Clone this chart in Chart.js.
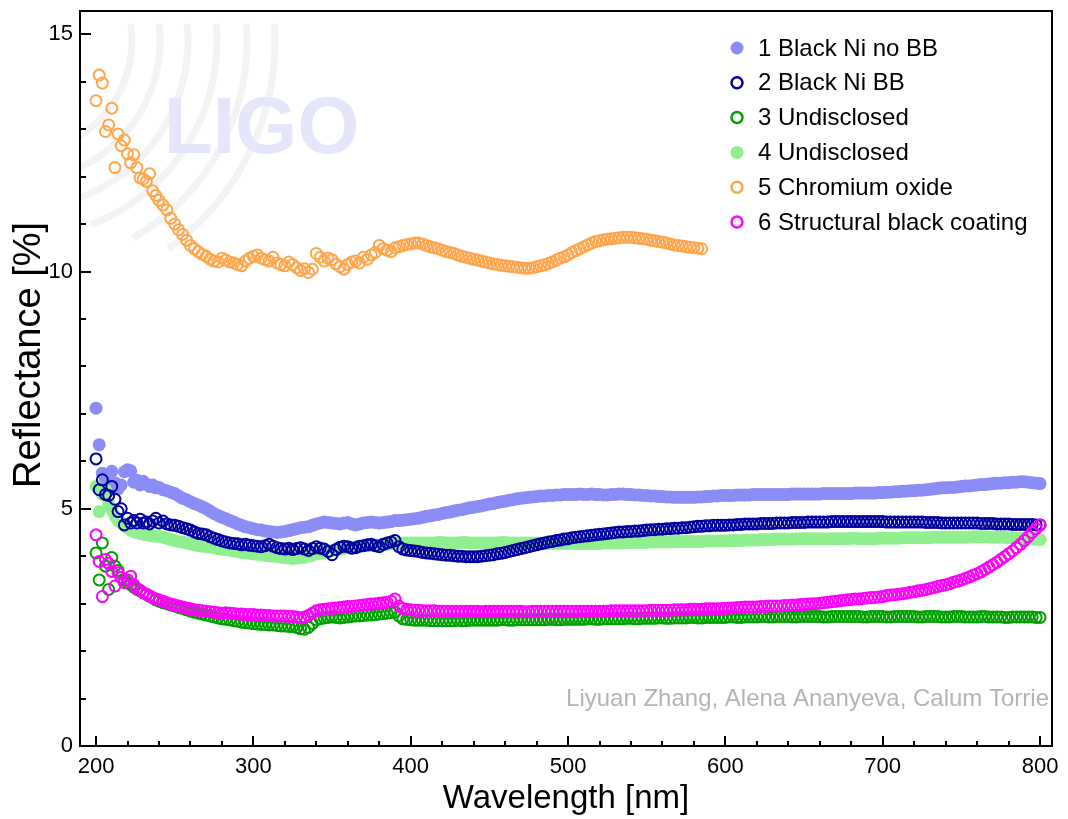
<!DOCTYPE html>
<html>
<head>
<meta charset="utf-8">
<title>Reflectance of black coatings</title>
<script src="https://cdn.jsdelivr.net/npm/chart.js@4.4.1/dist/chart.umd.min.js"></script>
<style>
  html, body { margin: 0; padding: 0; background: #fff; }
  canvas { display: block; }
</style>
</head>
<body>
<canvas id="reflChart" width="1068" height="819"></canvas>
<script>
// wavelength grid [nm] shared by all samples
const wavelengths = [
  200, 202, 204, 206, 208, 210, 212, 214, 216, 218, 220, 222, 224, 226, 228, 230, 232, 234, 236, 238,
  240, 242.5, 245, 247.5, 250, 252.5, 255, 257.5, 260, 262.5, 265, 267.5, 270, 272.5, 275, 277.5, 280, 282.5, 285, 287.5,
  290, 292.5, 295, 297.5, 300, 302.5, 305, 307.5, 310, 312.5, 315, 317.5, 320, 322.5, 325, 327.5, 330, 332.5, 335, 337.5,
  340, 342.5, 345, 347.5, 350, 352.5, 355, 357.5, 360, 362.5, 365, 367.5, 370, 372.5, 375, 377.5, 380, 382.5, 385, 387.5,
  390, 392.5, 395, 397.5, 400, 402.5, 405, 407.5, 410, 412.5, 415, 417.5, 420, 422.5, 425, 427.5, 430, 432.5, 435, 437.5,
  440, 442.5, 445, 447.5, 450, 452.5, 455, 457.5, 460, 462.5, 465, 467.5, 470, 472.5, 475, 477.5, 480, 482.5, 485, 487.5,
  490, 492.5, 495, 497.5, 500, 502.5, 505, 507.5, 510, 512.5, 515, 517.5, 520, 522.5, 525, 527.5, 530, 532.5, 535, 537.5,
  540, 542.5, 545, 547.5, 550, 552.5, 555, 557.5, 560, 562.5, 565, 567.5, 570, 572.5, 575, 577.5, 580, 582.5, 585, 587.5,
  590, 592.5, 595, 597.5, 600, 602.5, 605, 607.5, 610, 612.5, 615, 617.5, 620, 622.5, 625, 627.5, 630, 632.5, 635, 637.5,
  640, 642.5, 645, 647.5, 650, 652.5, 655, 657.5, 660, 662.5, 665, 667.5, 670, 672.5, 675, 677.5, 680, 682.5, 685, 687.5,
  690, 692.5, 695, 697.5, 700, 702.5, 705, 707.5, 710, 712.5, 715, 717.5, 720, 722.5, 725, 727.5, 730, 732.5, 735, 737.5,
  740, 742.5, 745, 747.5, 750, 752.5, 755, 757.5, 760, 762.5, 765, 767.5, 770, 772.5, 775, 777.5, 780, 782.5, 785, 787.5,
  790, 792.5, 795, 797.5, 800
];

// reflectance [%], one row per 50 nm
const blackNiNoBB = [
  7.12, 6.35, 5.75, 5.60, 5.72, 5.79, 5.55, 5.42, 5.50, 5.78, 5.82, 5.80, 5.56, 5.60, 5.50, 5.58, 5.52, 5.47, 5.50, 5.44,
  5.45, 5.40, 5.38, 5.35, 5.32, 5.27, 5.22, 5.19, 5.15, 5.11, 5.08, 5.04, 5.00, 4.95, 4.90, 4.86, 4.82, 4.79, 4.75, 4.72,
  4.68, 4.65, 4.62, 4.60, 4.58, 4.56, 4.55, 4.53, 4.52, 4.51, 4.50, 4.51, 4.52, 4.54, 4.56, 4.58, 4.60, 4.61, 4.62, 4.65,
  4.68, 4.70, 4.72, 4.71, 4.70, 4.69, 4.68, 4.70, 4.71, 4.68, 4.66, 4.68, 4.70, 4.71, 4.72, 4.71, 4.70, 4.71, 4.72, 4.73,
  4.75, 4.75, 4.76, 4.77, 4.78, 4.79, 4.80, 4.82, 4.84, 4.85, 4.87, 4.88, 4.90, 4.92, 4.93, 4.95, 4.97, 4.98, 5.00, 5.02,
  5.03, 5.05, 5.06, 5.08, 5.10, 5.11, 5.13, 5.15, 5.16, 5.18, 5.19, 5.21, 5.22, 5.23, 5.24, 5.25, 5.26, 5.27, 5.27, 5.28,
  5.28, 5.29, 5.29, 5.30, 5.30, 5.30, 5.30, 5.31, 5.30, 5.30, 5.31, 5.30, 5.30, 5.29, 5.29, 5.30, 5.30, 5.31, 5.31, 5.30,
  5.30, 5.29, 5.29, 5.28, 5.28, 5.27, 5.27, 5.26, 5.26, 5.25, 5.25, 5.24, 5.24, 5.24, 5.24, 5.24, 5.24, 5.25, 5.25, 5.26,
  5.26, 5.27, 5.27, 5.28, 5.28, 5.28, 5.28, 5.29, 5.29, 5.29, 5.29, 5.30, 5.30, 5.30, 5.30, 5.30, 5.30, 5.30, 5.30, 5.30,
  5.30, 5.31, 5.31, 5.31, 5.31, 5.31, 5.31, 5.31, 5.31, 5.32, 5.32, 5.32, 5.32, 5.32, 5.32, 5.32, 5.32, 5.33, 5.33, 5.33,
  5.33, 5.33, 5.33, 5.34, 5.34, 5.35, 5.35, 5.36, 5.36, 5.37, 5.37, 5.38, 5.38, 5.39, 5.39, 5.40, 5.41, 5.42, 5.43, 5.44,
  5.44, 5.45, 5.45, 5.46, 5.47, 5.48, 5.48, 5.49, 5.50, 5.51, 5.51, 5.52, 5.53, 5.54, 5.54, 5.55, 5.55, 5.56, 5.56, 5.57,
  5.57, 5.56, 5.55, 5.54, 5.53
];
const blackNiBB = [
  6.05, 5.40, 5.61, 5.30, 5.28, 5.47, 5.20, 4.94, 5.00, 4.66, 4.80, 4.70, 4.75, 4.70, 4.78, 4.70, 4.72, 4.68, 4.74, 4.80,
  4.70, 4.74, 4.68, 4.66, 4.65, 4.63, 4.60, 4.58, 4.55, 4.51, 4.48, 4.47, 4.45, 4.41, 4.38, 4.35, 4.32, 4.30, 4.28, 4.27,
  4.26, 4.24, 4.25, 4.23, 4.22, 4.21, 4.20, 4.22, 4.25, 4.21, 4.18, 4.16, 4.15, 4.17, 4.14, 4.16, 4.18, 4.15, 4.12, 4.16,
  4.20, 4.17, 4.15, 4.10, 4.03, 4.14, 4.19, 4.21, 4.20, 4.17, 4.18, 4.21, 4.22, 4.24, 4.25, 4.22, 4.20, 4.25, 4.28, 4.30,
  4.33, 4.20, 4.15, 4.13, 4.12, 4.11, 4.10, 4.08, 4.07, 4.06, 4.05, 4.04, 4.03, 4.02, 4.02, 4.01, 4.00, 4.00, 3.99, 3.99,
  3.99, 3.99, 4.00, 4.01, 4.02, 4.03, 4.05, 4.06, 4.08, 4.10, 4.12, 4.14, 4.16, 4.18, 4.20, 4.22, 4.24, 4.26, 4.28, 4.30,
  4.31, 4.33, 4.34, 4.36, 4.37, 4.39, 4.40, 4.41, 4.42, 4.43, 4.44, 4.45, 4.46, 4.47, 4.48, 4.49, 4.50, 4.51, 4.51, 4.52,
  4.52, 4.53, 4.53, 4.54, 4.55, 4.56, 4.56, 4.57, 4.57, 4.58, 4.58, 4.59, 4.59, 4.60, 4.60, 4.61, 4.62, 4.63, 4.63, 4.64,
  4.64, 4.65, 4.65, 4.65, 4.65, 4.66, 4.66, 4.67, 4.67, 4.68, 4.68, 4.68, 4.68, 4.69, 4.69, 4.69, 4.69, 4.70, 4.70, 4.70,
  4.70, 4.71, 4.71, 4.71, 4.71, 4.72, 4.72, 4.72, 4.72, 4.72, 4.72, 4.73, 4.73, 4.73, 4.73, 4.73, 4.73, 4.73, 4.73, 4.73,
  4.73, 4.73, 4.73, 4.73, 4.73, 4.72, 4.72, 4.72, 4.72, 4.72, 4.72, 4.72, 4.72, 4.72, 4.72, 4.71, 4.71, 4.71, 4.71, 4.70,
  4.70, 4.70, 4.70, 4.70, 4.70, 4.70, 4.70, 4.70, 4.70, 4.69, 4.69, 4.69, 4.69, 4.68, 4.68, 4.68, 4.68, 4.67, 4.67, 4.67,
  4.67, 4.67, 4.67, 4.66, 4.66
];
const undisclosed3 = [
  4.07, 3.50, 4.28, 3.79, 3.30, 3.97, 3.79, 3.70, 3.55, 3.50, 3.44, 3.40, 3.35, 3.30, 3.27, 3.23, 3.20, 3.16, 3.12, 3.08,
  3.05, 3.02, 3.00, 2.97, 2.95, 2.92, 2.90, 2.87, 2.84, 2.82, 2.80, 2.78, 2.76, 2.74, 2.72, 2.70, 2.68, 2.67, 2.66, 2.64,
  2.63, 2.61, 2.60, 2.59, 2.58, 2.57, 2.56, 2.56, 2.55, 2.55, 2.54, 2.53, 2.53, 2.52, 2.52, 2.50, 2.47, 2.46, 2.50, 2.58,
  2.66, 2.68, 2.70, 2.71, 2.72, 2.71, 2.70, 2.71, 2.72, 2.73, 2.74, 2.74, 2.75, 2.76, 2.76, 2.77, 2.78, 2.79, 2.80, 2.81,
  2.82, 2.74, 2.68, 2.67, 2.66, 2.65, 2.65, 2.65, 2.65, 2.64, 2.64, 2.64, 2.64, 2.64, 2.64, 2.64, 2.65, 2.64, 2.64, 2.65,
  2.65, 2.65, 2.65, 2.65, 2.65, 2.65, 2.65, 2.66, 2.66, 2.65, 2.65, 2.66, 2.66, 2.66, 2.66, 2.66, 2.66, 2.66, 2.66, 2.67,
  2.67, 2.66, 2.66, 2.67, 2.67, 2.67, 2.67, 2.67, 2.67, 2.68, 2.68, 2.67, 2.67, 2.68, 2.68, 2.68, 2.68, 2.68, 2.68, 2.69,
  2.69, 2.68, 2.68, 2.69, 2.69, 2.69, 2.69, 2.70, 2.70, 2.69, 2.69, 2.70, 2.70, 2.70, 2.70, 2.71, 2.71, 2.70, 2.70, 2.71,
  2.71, 2.71, 2.71, 2.71, 2.71, 2.72, 2.72, 2.71, 2.71, 2.72, 2.72, 2.72, 2.72, 2.73, 2.73, 2.72, 2.72, 2.73, 2.73, 2.73,
  2.73, 2.72, 2.72, 2.73, 2.73, 2.73, 2.73, 2.73, 2.73, 2.72, 2.72, 2.73, 2.73, 2.73, 2.73, 2.73, 2.73, 2.73, 2.73, 2.72,
  2.72, 2.73, 2.73, 2.73, 2.73, 2.72, 2.72, 2.73, 2.73, 2.73, 2.73, 2.73, 2.73, 2.72, 2.72, 2.73, 2.73, 2.73, 2.73, 2.72,
  2.72, 2.72, 2.73, 2.73, 2.73, 2.72, 2.72, 2.72, 2.72, 2.73, 2.73, 2.72, 2.72, 2.72, 2.72, 2.71, 2.71, 2.72, 2.72, 2.72,
  2.72, 2.72, 2.72, 2.71, 2.71
];
const undisclosed4 = [
  5.47, 4.94, 5.30, 5.40, 5.10, 4.98, 4.85, 4.75, 4.70, 4.65, 4.60, 4.55, 4.52, 4.50, 4.48, 4.47, 4.45, 4.44, 4.43, 4.42,
  4.42, 4.40, 4.38, 4.35, 4.33, 4.31, 4.30, 4.28, 4.26, 4.24, 4.22, 4.21, 4.20, 4.19, 4.18, 4.16, 4.15, 4.14, 4.13, 4.11,
  4.10, 4.08, 4.07, 4.06, 4.05, 4.04, 4.03, 4.02, 4.01, 4.00, 4.00, 3.98, 3.97, 3.96, 3.95, 3.96, 3.97, 3.98, 4.00, 4.02,
  4.05, 4.06, 4.08, 4.10, 4.12, 4.13, 4.15, 4.16, 4.18, 4.19, 4.20, 4.21, 4.22, 4.22, 4.23, 4.23, 4.24, 4.24, 4.25, 4.26,
  4.27, 4.27, 4.28, 4.28, 4.28, 4.28, 4.28, 4.28, 4.28, 4.28, 4.28, 4.29, 4.29, 4.28, 4.28, 4.28, 4.28, 4.29, 4.29, 4.28,
  4.28, 4.28, 4.28, 4.28, 4.28, 4.28, 4.28, 4.29, 4.29, 4.28, 4.28, 4.28, 4.28, 4.28, 4.28, 4.28, 4.28, 4.27, 4.27, 4.27,
  4.27, 4.27, 4.27, 4.27, 4.27, 4.27, 4.27, 4.27, 4.27, 4.27, 4.27, 4.27, 4.27, 4.28, 4.28, 4.28, 4.28, 4.28, 4.28, 4.29,
  4.29, 4.29, 4.29, 4.29, 4.29, 4.30, 4.30, 4.30, 4.30, 4.30, 4.30, 4.31, 4.31, 4.31, 4.31, 4.31, 4.31, 4.31, 4.31, 4.32,
  4.32, 4.32, 4.32, 4.32, 4.32, 4.33, 4.33, 4.33, 4.33, 4.34, 4.34, 4.34, 4.34, 4.35, 4.35, 4.35, 4.35, 4.36, 4.36, 4.36,
  4.36, 4.36, 4.36, 4.37, 4.37, 4.37, 4.37, 4.37, 4.37, 4.37, 4.37, 4.37, 4.37, 4.37, 4.37, 4.37, 4.38, 4.38, 4.37, 4.37,
  4.37, 4.37, 4.37, 4.38, 4.38, 4.38, 4.38, 4.38, 4.38, 4.39, 4.39, 4.39, 4.39, 4.39, 4.39, 4.39, 4.39, 4.40, 4.40, 4.40,
  4.40, 4.40, 4.40, 4.40, 4.40, 4.40, 4.40, 4.41, 4.41, 4.41, 4.41, 4.40, 4.40, 4.40, 4.40, 4.40, 4.39, 4.39, 4.38, 4.38,
  4.37, 4.37, 4.36, 4.36, 4.35
];
// chromium oxide was only measured up to 585 nm
const chromiumOxide = [
  13.60, 14.14, 13.97, 12.95, 13.09, 13.44, 12.19, 12.90, 12.65, 12.77, 12.48, 12.29, 12.46, 12.19, 11.97, 11.95, 11.90, 12.06, 11.70, 11.60,
  11.50, 11.40, 11.30, 11.12, 11.00, 10.88, 10.78, 10.66, 10.55, 10.48, 10.42, 10.36, 10.32, 10.26, 10.22, 10.20, 10.28, 10.24, 10.20, 10.18,
  10.15, 10.12, 10.22, 10.28, 10.32, 10.35, 10.28, 10.25, 10.22, 10.30, 10.18, 10.15, 10.12, 10.20, 10.15, 10.08, 10.02, 10.06, 9.98, 10.05,
  10.38, 10.30, 10.22, 10.28, 10.25, 10.16, 10.10, 10.05, 10.15, 10.20, 10.22, 10.18, 10.30, 10.26, 10.35, 10.40, 10.55, 10.48, 10.45, 10.42,
  10.50, 10.52, 10.55, 10.57, 10.58, 10.60, 10.60, 10.58, 10.55, 10.52, 10.50, 10.48, 10.45, 10.42, 10.40, 10.38, 10.35, 10.32, 10.30, 10.28,
  10.26, 10.24, 10.22, 10.20, 10.18, 10.16, 10.15, 10.13, 10.12, 10.11, 10.10, 10.09, 10.08, 10.07, 10.07, 10.08, 10.10, 10.12, 10.14, 10.17,
  10.20, 10.24, 10.28, 10.31, 10.35, 10.40, 10.44, 10.48, 10.52, 10.56, 10.60, 10.63, 10.65, 10.67, 10.68, 10.69, 10.70, 10.71, 10.72, 10.72,
  10.72, 10.71, 10.70, 10.69, 10.68, 10.66, 10.65, 10.63, 10.62, 10.60, 10.58, 10.56, 10.55, 10.54, 10.52, 10.51, 10.50, 10.49, 10.48
];
const structuralBlack = [
  4.45, 3.89, 3.15, 3.93, 3.85, 3.68, 3.37, 3.65, 3.55, 3.44, 3.50, 3.58, 3.40, 3.32, 3.28, 3.23, 3.20, 3.16, 3.13, 3.10,
  3.08, 3.05, 3.02, 2.99, 2.97, 2.95, 2.93, 2.91, 2.89, 2.87, 2.86, 2.85, 2.84, 2.83, 2.82, 2.81, 2.80, 2.81, 2.80, 2.79,
  2.78, 2.78, 2.77, 2.77, 2.77, 2.76, 2.76, 2.75, 2.75, 2.74, 2.74, 2.74, 2.74, 2.73, 2.73, 2.72, 2.70, 2.72, 2.75, 2.80,
  2.85, 2.87, 2.88, 2.89, 2.90, 2.91, 2.92, 2.93, 2.94, 2.94, 2.95, 2.96, 2.97, 2.98, 2.99, 3.00, 3.01, 3.02, 3.03, 3.05,
  3.10, 2.95, 2.90, 2.88, 2.87, 2.86, 2.86, 2.85, 2.85, 2.85, 2.85, 2.84, 2.84, 2.84, 2.84, 2.84, 2.84, 2.84, 2.84, 2.84,
  2.84, 2.84, 2.83, 2.84, 2.84, 2.84, 2.84, 2.84, 2.84, 2.84, 2.84, 2.84, 2.84, 2.83, 2.83, 2.84, 2.84, 2.84, 2.84, 2.84,
  2.84, 2.84, 2.84, 2.84, 2.84, 2.84, 2.84, 2.84, 2.84, 2.84, 2.84, 2.84, 2.84, 2.84, 2.84, 2.85, 2.85, 2.85, 2.85, 2.85,
  2.85, 2.85, 2.85, 2.85, 2.85, 2.86, 2.86, 2.86, 2.86, 2.86, 2.86, 2.87, 2.87, 2.87, 2.87, 2.88, 2.88, 2.88, 2.88, 2.89,
  2.89, 2.89, 2.89, 2.90, 2.90, 2.91, 2.91, 2.92, 2.92, 2.93, 2.93, 2.93, 2.93, 2.94, 2.94, 2.95, 2.95, 2.95, 2.95, 2.96,
  2.96, 2.97, 2.97, 2.98, 2.98, 2.99, 3.00, 3.00, 3.01, 3.02, 3.03, 3.04, 3.05, 3.06, 3.07, 3.08, 3.09, 3.10, 3.10, 3.11,
  3.12, 3.13, 3.13, 3.14, 3.15, 3.17, 3.18, 3.19, 3.20, 3.21, 3.22, 3.24, 3.25, 3.27, 3.28, 3.30, 3.32, 3.34, 3.36, 3.38,
  3.40, 3.42, 3.45, 3.47, 3.50, 3.53, 3.56, 3.60, 3.63, 3.67, 3.72, 3.77, 3.82, 3.87, 3.93, 3.99, 4.05, 4.11, 4.18, 4.25,
  4.33, 4.41, 4.50, 4.58, 4.66
];

const seriesLabels = [
  '1 Black Ni no BB', '2 Black Ni BB', '3 Undisclosed',
  '4 Undisclosed', '5 Chromium oxide', '6 Structural black coating'
];
const xMajorTicks = [200, 300, 400, 500, 600, 700, 800];
const yMajorTicks = [0, 5, 10, 15];
const yTitle = 'Reflectance [%]';
const creditText = 'Liyuan Zhang, Alena Ananyeva, Calum Torrie';

const FONT = 'Arial, "Liberation Sans", Helvetica, sans-serif';
Chart.defaults.font.family = FONT;
Chart.defaults.color = '#000';

const toPoints = vals => vals.map((v, i) => ({ x: wavelengths[i], y: v }));

// filled markers vs open circles
function filledSet(label, values, color, order) {
  return {
    label, data: toPoints(values), order,
    backgroundColor: color, borderColor: color,
    pointRadius: 6.5, pointBorderWidth: 0, pointHoverRadius: 6.5,
    showLine: false, filled: true
  };
}
function openSet(label, values, color, order) {
  return {
    label, data: toPoints(values), order,
    backgroundColor: 'rgba(0,0,0,0)', borderColor: color,
    pointRadius: 5.5, pointBorderWidth: 2, pointHoverRadius: 5.5,
    showLine: false, filled: false
  };
}

// faint logo behind the data
const watermark = {
  id: 'watermark',
  beforeDatasetsDraw(chart) {
    const { ctx, chartArea: a } = chart;
    ctx.save();
    ctx.beginPath();
    ctx.rect(a.left, a.top, a.right - a.left, a.bottom - a.top);
    ctx.clip();
    const cx = a.left - 60, cy = a.top + 30;
    const radii = [112, 140, 168, 197, 227, 255];
    const ends = [1.57, 1.57, 1.45, 1.2, 1.05, 0.95];
    ctx.strokeStyle = '#f3f3f3';
    ctx.lineWidth = 7;
    radii.forEach((r, i) => {
      ctx.beginPath();
      ctx.arc(cx, cy, r, -Math.asin(17 / r), ends[i]);
      ctx.stroke();
    });
    ctx.fillStyle = '#e6e6fa';
    ctx.font = 'bold 80px ' + FONT;
    ctx.textBaseline = 'alphabetic';
    ctx.fillText('LIGO', a.left + 84, a.top + 142);
    ctx.restore();
  }
};

// box frame with inward ticks
const frameTicks = {
  id: 'frameTicks',
  afterDatasetsDraw(chart) {
    const { ctx, chartArea: a, scales: { x, y } } = chart;
    ctx.save();
    ctx.strokeStyle = '#000';
    ctx.lineWidth = 2;
    ctx.beginPath();
    for (let v = xMajorTicks[0]; v <= xMajorTicks[xMajorTicks.length - 1]; v += 20) {
      const px = Math.round(x.getPixelForValue(v));
      const len = xMajorTicks.includes(v) ? 10 : 5;
      ctx.moveTo(px, a.bottom);
      ctx.lineTo(px, a.bottom - len);
    }
    for (let v = 0; v <= 15; v++) {
      const py = Math.round(y.getPixelForValue(v));
      const len = yMajorTicks.includes(v) ? 11 : 6;
      ctx.moveTo(a.left, py);
      ctx.lineTo(a.left + len, py);
    }
    ctx.stroke();
    ctx.strokeRect(a.left, a.top, a.right - a.left, a.bottom - a.top);
    ctx.restore();
  }
};

// legend in the upper right corner, y title and credit line
const legendBox = {
  id: 'legendBox',
  afterDraw(chart) {
    const { ctx, chartArea: a } = chart;
    ctx.save();
    ctx.font = '24px ' + FONT;
    ctx.textBaseline = 'middle';
    chart.data.datasets.forEach((ds, i) => {
      const mx = a.right - 315;
      const my = a.top + 37 + i * 34.8;
      ctx.beginPath();
      if (ds.filled) {
        ctx.arc(mx, my, 6.5, 0, Math.PI * 2);
        ctx.fillStyle = ds.backgroundColor;
        ctx.fill();
      } else {
        ctx.arc(mx, my, 5.5, 0, Math.PI * 2);
        ctx.lineWidth = 2.5;
        ctx.strokeStyle = ds.borderColor;
        ctx.stroke();
      }
      ctx.fillStyle = '#000';
      ctx.fillText(ds.label, mx + 21, my + 1);
    });

    ctx.font = '24px ' + FONT;
    ctx.fillStyle = '#b4b4b4';
    ctx.textAlign = 'right';
    ctx.fillText(creditText, a.right - 3, a.bottom - 47);

    ctx.translate(a.left - 50, a.top + 344);
    ctx.rotate(-Math.PI / 2);
    ctx.font = '38px ' + FONT;
    ctx.fillStyle = '#000';
    ctx.textAlign = 'center';
    ctx.textBaseline = 'middle';
    ctx.fillText(yTitle, 0, 0);
    ctx.restore();
  }
};

new Chart(document.getElementById('reflChart'), {
  type: 'scatter',
  data: {
    datasets: [
      filledSet(seriesLabels[0], blackNiNoBB, '#8c8cf6', 5),
      openSet(seriesLabels[1], blackNiBB, '#00009e', 1),
      openSet(seriesLabels[2], undisclosed3, '#00a000', 3),
      filledSet(seriesLabels[3], undisclosed4, '#90f090', 4),
      openSet(seriesLabels[4], chromiumOxide, '#ffa64d', 2),
      openSet(seriesLabels[5], structuralBlack, '#ff00ff', 0)
    ]
  },
  options: {
    responsive: false,
    animation: false,
    layout: { padding: { top: 11, right: 16, left: 0, bottom: 0 } },
    plugins: { legend: { display: false }, tooltip: { enabled: false } },
    scales: {
      x: {
        type: 'linear',
        min: 189.8,
        max: 807.6,
        grid: { display: false, drawTicks: false },
        border: { display: false },
        ticks: { stepSize: 100, includeBounds: false, maxRotation: 0, padding: 8, font: { size: 22 }, color: '#000' },
        title: { display: true, text: 'Wavelength [nm]', font: { size: 33 }, color: '#000', padding: { top: 0, bottom: 0 } },
        afterFit(s) { s.height = 73; s.paddingLeft = 0; s.paddingRight = 0; }
      },
      y: {
        min: 0,
        max: 15.49,
        grid: { display: false, drawTicks: false },
        border: { display: false },
        ticks: { stepSize: 5, includeBounds: false, padding: 7, font: { size: 22 }, color: '#000' },
        afterFit(s) { s.width = 80; s.paddingTop = 0; s.paddingBottom = 0; }
      }
    }
  },
  plugins: [watermark, frameTicks, legendBox]
});
</script>
</body>
</html>
